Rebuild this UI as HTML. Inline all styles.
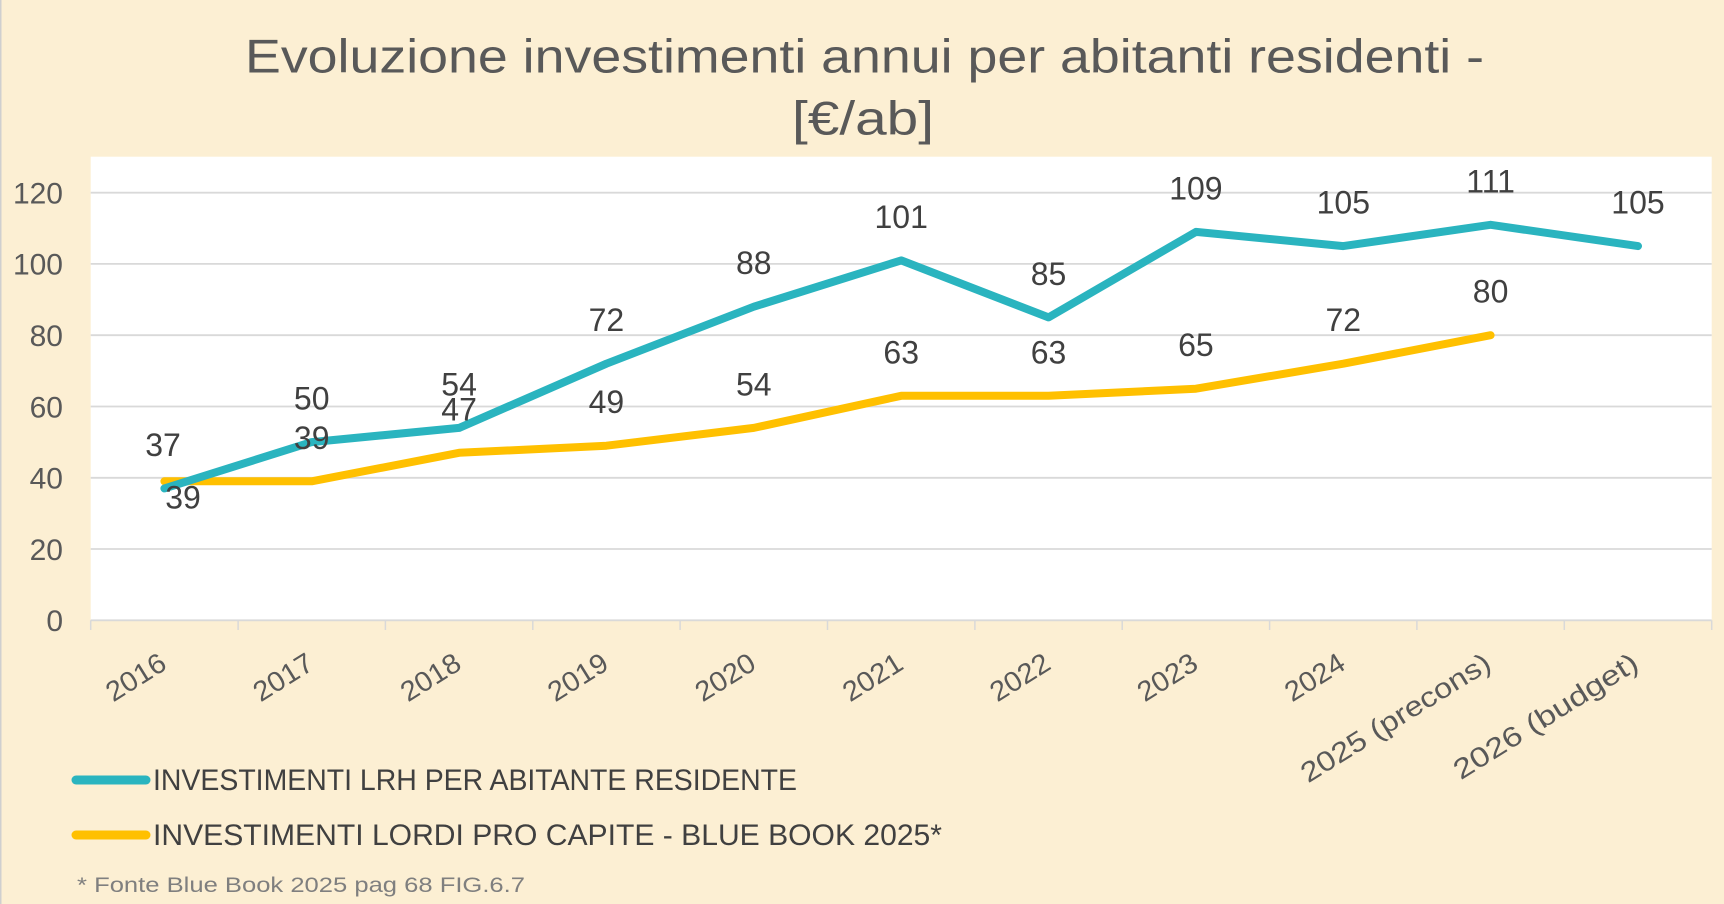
<!DOCTYPE html>
<html>
<head>
<meta charset="utf-8">
<style>
  html, body { margin:0; padding:0; background:#FCEFD3; }
  svg { display:block; }
  text { font-family: "Liberation Sans", Arial, sans-serif; }
</style>
</head>
<body>
<svg width="1724" height="904" viewBox="0 0 1724 904" xmlns="http://www.w3.org/2000/svg">
  <rect x="0" y="0" width="1724" height="904" fill="#FCEFD3"/>
  <line x1="0.75" y1="0" x2="0.75" y2="904" stroke="#CFCFCF" stroke-width="1.5"/>

  <!-- Title -->
  <text x="245" y="72.7" font-size="47" fill="#595959" textLength="1239" lengthAdjust="spacingAndGlyphs">Evoluzione investimenti annui per abitanti residenti -</text>
  <text x="792" y="134.5" font-size="47" fill="#595959" textLength="142" lengthAdjust="spacingAndGlyphs">[€/ab]</text>

  <!-- Plot area -->
  <rect x="90.7" y="156.7" width="1621" height="463.6" fill="#FFFFFF"/>

  <!-- Gridlines -->
  <g stroke="#D9D9D9" stroke-width="1.8">
    <line x1="90.7" y1="549.0" x2="1711.7" y2="549.0"/>
    <line x1="90.7" y1="477.8" x2="1711.7" y2="477.8"/>
    <line x1="90.7" y1="406.5" x2="1711.7" y2="406.5"/>
    <line x1="90.7" y1="335.2" x2="1711.7" y2="335.2"/>
    <line x1="90.7" y1="263.9" x2="1711.7" y2="263.9"/>
    <line x1="90.7" y1="192.7" x2="1711.7" y2="192.7"/>
    <line x1="90.7" y1="620.3" x2="1711.7" y2="620.3"/>
  </g>
  <!-- Ticks -->
  <g stroke="#D9D9D9" stroke-width="1.5">
    <line x1="90.7" y1="620.3" x2="90.7" y2="630"/>
    <line x1="238.1" y1="620.3" x2="238.1" y2="630"/>
    <line x1="385.4" y1="620.3" x2="385.4" y2="630"/>
    <line x1="532.8" y1="620.3" x2="532.8" y2="630"/>
    <line x1="680.1" y1="620.3" x2="680.1" y2="630"/>
    <line x1="827.5" y1="620.3" x2="827.5" y2="630"/>
    <line x1="974.9" y1="620.3" x2="974.9" y2="630"/>
    <line x1="1122.2" y1="620.3" x2="1122.2" y2="630"/>
    <line x1="1269.6" y1="620.3" x2="1269.6" y2="630"/>
    <line x1="1416.9" y1="620.3" x2="1416.9" y2="630"/>
    <line x1="1564.3" y1="620.3" x2="1564.3" y2="630"/>
    <line x1="1711.7" y1="620.3" x2="1711.7" y2="630"/>
  </g>

  <!-- Y axis labels -->
  <g font-size="30" fill="#595959" text-anchor="end">
    <text x="63" y="203.5">120</text>
    <text x="63" y="274.7">100</text>
    <text x="63" y="346.0">80</text>
    <text x="63" y="417.3">60</text>
    <text x="63" y="488.6">40</text>
    <text x="63" y="559.8">20</text>
    <text x="63" y="631.1">0</text>
  </g>

  <!-- Series lines -->
  <polyline fill="none" stroke="#FFC000" stroke-width="8" stroke-linejoin="round" stroke-linecap="round"
    points="164.4,481.3 311.7,481.3 459.1,452.8 606.4,445.7 753.8,427.9 901.2,395.8 1048.5,395.8 1195.9,388.7 1343.3,363.7 1490.6,335.2"/>
  <polyline fill="none" stroke="#2AB4BF" stroke-width="8" stroke-linejoin="round" stroke-linecap="round"
    points="164.4,488.4 311.7,442.1 459.1,427.9 606.4,363.7 753.8,306.7 901.2,260.4 1048.5,317.4 1195.9,231.9 1343.3,246.1 1490.6,224.8 1638.0,246.1"/>

  <!-- Data labels -->
  <g font-size="32" fill="#404040" text-anchor="middle">
    <!-- cyan -->
    <text x="163" y="455.9">37</text>
    <text x="311.7" y="409.6">50</text>
    <text x="459.1" y="395.4">54</text>
    <text x="606.4" y="331.2">72</text>
    <text x="753.8" y="274.2">88</text>
    <text x="901.2" y="227.9">101</text>
    <text x="1048.5" y="284.9">85</text>
    <text x="1195.9" y="199.4">109</text>
    <text x="1343.3" y="213.6">105</text>
    <text x="1490.6" y="192.3">111</text>
    <text x="1638.0" y="213.6">105</text>
    <!-- orange -->
    <text x="183" y="508.5">39</text>
    <text x="311.7" y="448.8">39</text>
    <text x="459.1" y="420.3">47</text>
    <text x="606.4" y="413.2">49</text>
    <text x="753.8" y="395.4">54</text>
    <text x="901.2" y="363.3">63</text>
    <text x="1048.5" y="363.3">63</text>
    <text x="1195.9" y="356.2">65</text>
    <text x="1343.3" y="331.2">72</text>
    <text x="1490.6" y="302.7">80</text>
  </g>

  <!-- X axis labels (rotated) -->
  <g font-size="28" fill="#595959" text-anchor="end">
    <text transform="translate(168.4,668) rotate(-32)" textLength="65" lengthAdjust="spacingAndGlyphs">2016</text>
    <text transform="translate(315.7,668) rotate(-32)" textLength="65" lengthAdjust="spacingAndGlyphs">2017</text>
    <text transform="translate(463.1,668) rotate(-32)" textLength="65" lengthAdjust="spacingAndGlyphs">2018</text>
    <text transform="translate(610.4,668) rotate(-32)" textLength="65" lengthAdjust="spacingAndGlyphs">2019</text>
    <text transform="translate(757.8,668) rotate(-32)" textLength="65" lengthAdjust="spacingAndGlyphs">2020</text>
    <text transform="translate(905.2,668) rotate(-32)" textLength="65" lengthAdjust="spacingAndGlyphs">2021</text>
    <text transform="translate(1052.5,668) rotate(-32)" textLength="65" lengthAdjust="spacingAndGlyphs">2022</text>
    <text transform="translate(1199.9,668) rotate(-32)" textLength="65" lengthAdjust="spacingAndGlyphs">2023</text>
    <text transform="translate(1347.3,668) rotate(-32)" textLength="65" lengthAdjust="spacingAndGlyphs">2024</text>
    <text transform="translate(1493.0,668) rotate(-32)" textLength="218" lengthAdjust="spacingAndGlyphs">2025 (precons)</text>
    <text transform="translate(1640.5,668) rotate(-32)" textLength="212" lengthAdjust="spacingAndGlyphs">2026 (budget)</text>
  </g>

  <!-- Legend -->
  <line x1="76" y1="780" x2="146" y2="780" stroke="#2AB4BF" stroke-width="9" stroke-linecap="round"/>
  <line x1="76" y1="835" x2="146" y2="835" stroke="#FFC000" stroke-width="9" stroke-linecap="round"/>
  <text x="153" y="790" font-size="30" fill="#404040" textLength="644" lengthAdjust="spacingAndGlyphs">INVESTIMENTI LRH PER ABITANTE RESIDENTE</text>
  <text x="153" y="845" font-size="30" fill="#404040" textLength="789" lengthAdjust="spacingAndGlyphs">INVESTIMENTI LORDI PRO CAPITE - BLUE BOOK 2025*</text>

  <!-- Footnote -->
  <text x="77" y="892" font-size="21" fill="#7F7F7F" textLength="448" lengthAdjust="spacingAndGlyphs">* Fonte Blue Book 2025 pag 68 FIG.6.7</text>
</svg>
</body>
</html>
